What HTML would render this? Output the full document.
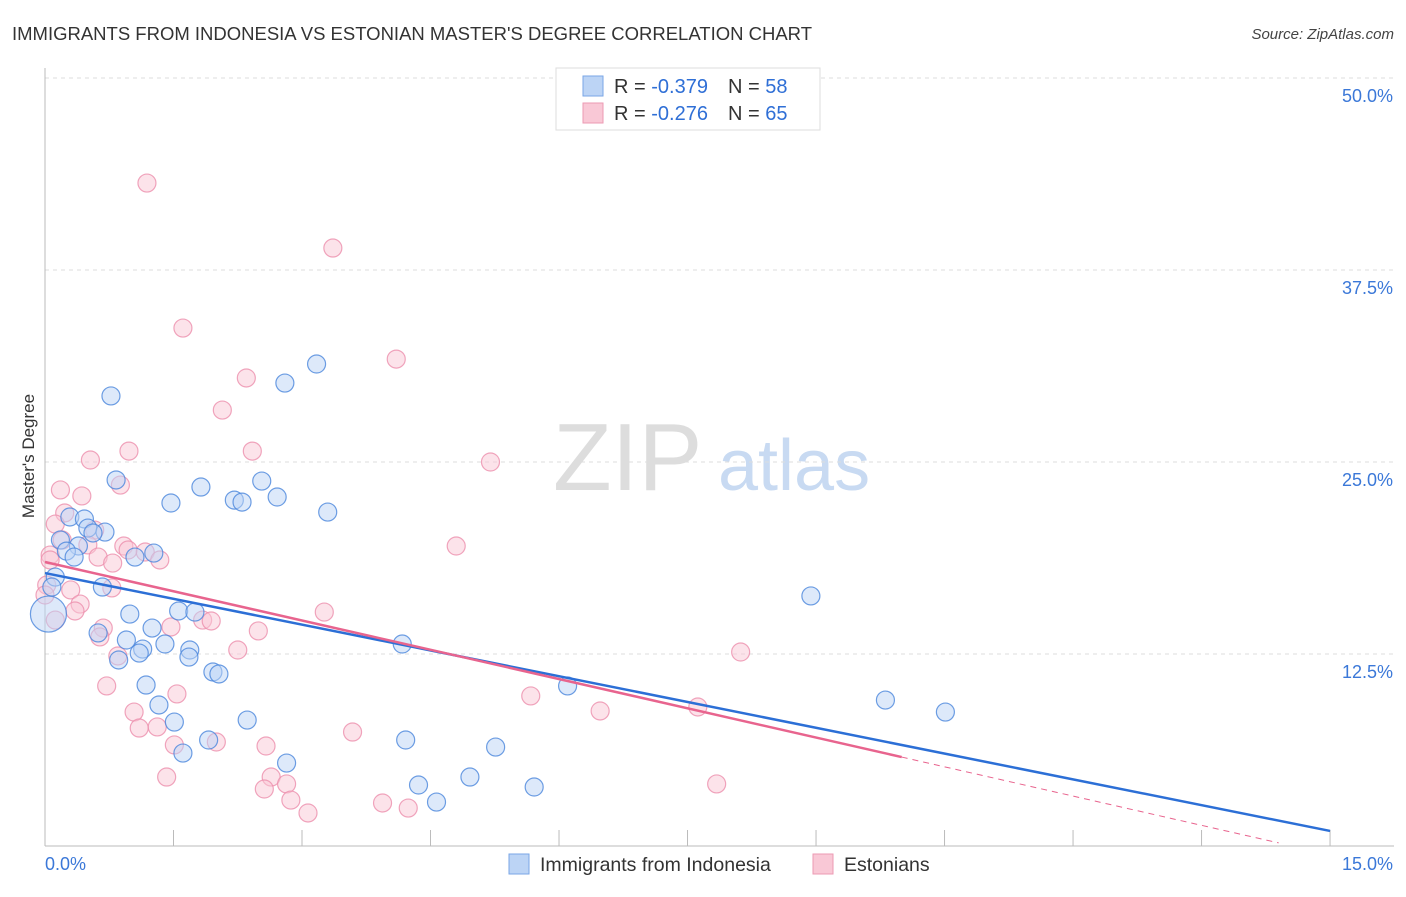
<!DOCTYPE html>
<html><head><meta charset="utf-8"><style>
body{margin:0;background:#fff;font-family:"Liberation Sans",sans-serif}
svg text{font-family:"Liberation Sans",sans-serif}
</style></head><body>
<svg id="c" width="1406" height="892">
<text x="12" y="40" font-size="18.5" fill="#333" textLength="800">IMMIGRANTS FROM INDONESIA VS ESTONIAN MASTER'S DEGREE CORRELATION CHART</text>
<text x="1394" y="39" font-size="15" fill="#444" font-style="italic" text-anchor="end">Source: ZipAtlas.com</text>
<g><text x="553" y="490" font-size="96" font-family="Liberation Serif" fill="#ddd">ZIP</text><text x="718" y="490" font-size="72" fill="#c8daf2">atlas</text></g>
<g id="grid"></g><g id="marks"></g>
<text transform="translate(34,456) rotate(-90)" font-size="17" fill="#333" text-anchor="middle">Master's Degree</text>
<g>
<rect x="556" y="68" width="264" height="62" fill="#fff" stroke="#ddd"/>
<rect x="583" y="76" width="20" height="20" fill="#bcd4f5" stroke="#7aa6e6"/>
<rect x="583" y="103" width="20" height="20" fill="#f9c8d6" stroke="#ec9ab3"/>
<text x="614" y="93" font-size="20" fill="#333">R = <tspan fill="#2f6fd6">-0.379</tspan><tspan dx="20">N = </tspan><tspan fill="#2f6fd6">58</tspan></text>
<text x="614" y="120" font-size="20" fill="#333">R = <tspan fill="#2f6fd6">-0.276</tspan><tspan dx="20">N = </tspan><tspan fill="#2f6fd6">65</tspan></text>
</g>
<g>
<rect x="509" y="854" width="20" height="20" fill="#bcd4f5" stroke="#7aa6e6"/>
<text x="540" y="871" font-size="19.5" fill="#333">Immigrants from Indonesia</text>
<rect x="813" y="854" width="20" height="20" fill="#f9c8d6" stroke="#ec9ab3"/>
<text x="844" y="871" font-size="19.5" fill="#333">Estonians</text>
</g>
</svg>
<script>
const yTicks=[12.5,25,37.5,50];
const yTickLabels=["12.5%","25.0%","37.5%","50.0%"];
const xTickLabels=["0.0%","15.0%"];
const blueX=[0.77,2.80,3.17,0.83,1.82,1.47,2.21,2.30,2.53,2.71,3.30,0.29,0.46,0.50,0.70,0.56,0.18,0.39,0.25,0.34,1.05,1.27,0.12,0.08,0.04,0.67,0.99,1.56,1.75,0.62,1.25,0.95,1.14,1.40,1.10,1.69,1.68,0.86,1.96,2.03,1.18,1.33,1.51,2.36,1.91,1.61,2.82,4.17,4.21,6.10,4.36,4.57,4.96,5.26,5.71,8.94,9.81,10.51];
const blueY=[29.30,30.14,31.38,23.83,23.37,22.33,22.52,22.39,23.76,22.72,21.74,21.42,21.29,20.70,20.44,20.38,19.92,19.53,19.20,18.81,18.81,19.07,17.51,16.86,15.10,16.86,15.10,15.30,15.23,13.87,14.19,13.41,12.82,13.15,12.56,12.76,12.30,12.11,11.33,11.20,10.48,9.18,8.07,8.20,6.90,6.05,5.40,13.15,6.90,10.42,3.97,2.86,4.49,6.44,3.84,16.28,9.50,8.72];
const pinkX=[1.19,3.36,1.61,4.10,2.35,2.07,0.98,2.42,5.20,0.53,0.18,0.43,0.88,0.23,0.12,0.58,0.20,0.50,0.06,0.62,0.79,0.92,0.97,1.17,1.34,0.30,0.78,0.02,0.41,0.35,0.68,0.64,1.47,1.84,1.94,2.49,2.25,0.85,0.72,1.54,1.04,1.10,1.31,1.51,2.00,2.58,1.42,2.64,2.82,2.56,2.87,3.07,3.94,4.24,3.59,3.26,4.80,5.67,6.48,7.62,8.12,7.84,0.06,0.0,0.12];
const pinkY=[43.16,38.93,33.72,31.70,30.47,28.38,25.71,25.71,25.00,25.13,23.18,22.79,23.50,21.68,20.96,20.57,19.92,19.60,18.94,18.81,18.42,19.53,19.27,19.14,18.62,16.67,16.80,16.99,15.75,15.30,14.19,13.61,14.26,14.71,14.65,14.00,12.76,12.37,10.42,9.90,8.72,7.68,7.75,6.58,6.77,6.51,4.49,4.49,4.04,3.71,2.99,2.15,2.80,2.47,7.42,15.23,19.53,9.77,8.79,9.05,12.63,4.04,18.62,16.34,14.71];
const blueLine=[17.77,0.98];
const pinkLine=[18.49,5.79];
const X=v=>45+v*85.67, Y=v=>846-v*15.36;
const NS="http://www.w3.org/2000/svg";
function mk(t,a,p){const e=document.createElementNS(NS,t);for(const k in a)e.setAttribute(k,a[k]);p.appendChild(e);return e;}
const g=document.getElementById('grid'),m=document.getElementById('marks');
yTicks.forEach((t,i)=>{
 const l=mk('line',{x1:45,x2:1394,y1:Y(t),y2:Y(t),stroke:'#ddd','stroke-dasharray':'4,4'},g);
 
 
 const tx=mk('text',{x:1393,y:Y(t)+24,'font-size':18,fill:'#3b78d8','text-anchor':'end'},g);
 tx.textContent=yTickLabels[i];
 
 
});
const ax=mk('line',{x1:45,x2:45,y1:68,y2:846,stroke:'#bbb'},g);


const bx=mk('line',{x1:45,x2:1394,y1:846,y2:846,stroke:'#bbb'},g);


for(let i=0;i<=10;i++){const t=mk('line',{x1:X(i*1.5),x2:X(i*1.5),y1:846,y2:830,stroke:'#bbb'},g);
 
 }
[[0,'start'],[15,'end']].forEach((d,i)=>{const t=mk('text',{x:i?1393:45,y:870,'font-size':18,fill:'#3b78d8','text-anchor':d[1]},g);t.textContent=xTickLabels[i];
 
 });
function pts(xs,ys,fill,stroke,name){xs.forEach((x,i)=>{const r=(name==='blue-point'&&i===24)?18:9;
 const c=mk('circle',{cx:X(x),cy:Y(ys[i]),r:r,fill:fill,'fill-opacity':0.5,stroke:stroke,'stroke-width':1.2,'stroke-opacity':0.8},m);
 
 });}
pts(pinkX,pinkY,'#f9c8d6','#ec8fac','pink-point');
pts(blueX,blueY,'#bcd4f5','#4a86dc','blue-point');
const bl=mk('line',{x1:X(0),y1:Y(blueLine[0]),x2:X(15),y2:Y(blueLine[1]),stroke:'#2c6fd6','stroke-width':2.5},m);


const ps=(pinkLine[1]-pinkLine[0])/10;
const pl=mk('line',{x1:X(0),y1:Y(pinkLine[0]),x2:X(10),y2:Y(pinkLine[1]),stroke:'#e8648e','stroke-width':2.5},m);


const pd=mk('line',{x1:X(10),y1:Y(pinkLine[1]),x2:X(14.4),y2:Y(pinkLine[0]+ps*14.4),stroke:'#e8648e','stroke-width':1,'stroke-dasharray':'6,5'},m);


</script>
</body></html>
